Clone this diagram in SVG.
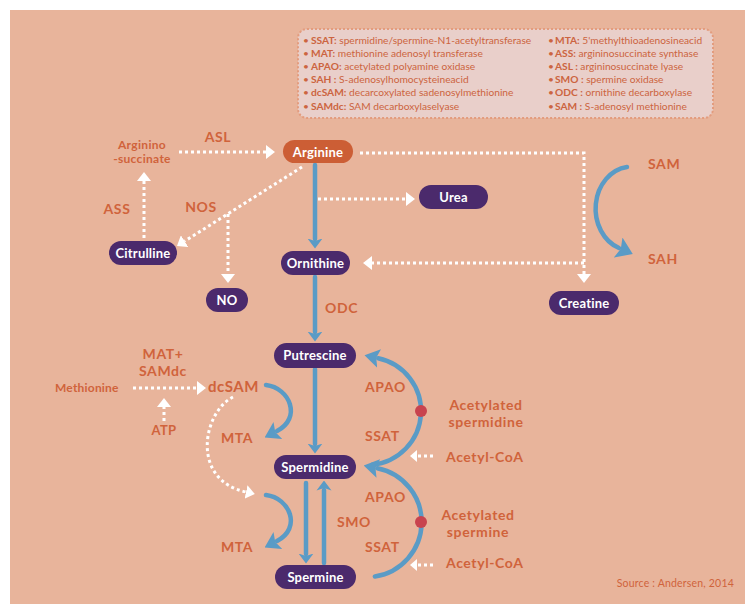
<svg xmlns="http://www.w3.org/2000/svg" width="745" height="604" viewBox="0 0 745 604">
<style>
.lbl{font-family:Lato,"Liberation Sans",sans-serif;font-weight:700;fill:#D0633B;}
.big{font-size:14px;letter-spacing:0.6px;}
.nt{font-family:Lato,"Liberation Sans",sans-serif;font-weight:700;fill:#FFFFFF;font-size:13px;text-anchor:middle;letter-spacing:0.2px;}
.node{fill:#4B2A6C;}
.leg{font-family:Lato,"Liberation Sans",sans-serif;font-size:10.2px;fill:#CC6440;}
.leg .b{font-weight:700;}
.blue{fill:none;stroke:#5A9BC6;stroke-width:4.5;stroke-linecap:round;}
.dot{fill:none;stroke:#FFFFFF;stroke-width:3;stroke-dasharray:3 3;}
</style>
<defs>
<marker id="ab" markerUnits="userSpaceOnUse" markerWidth="10" markerHeight="16" viewBox="0 0 10 16" refX="0.5" refY="8" orient="auto"><path d="M0,0.5 L10,8 L0,15.5 L2.5,8 z" fill="#5A9BC6"/></marker>
<marker id="abL" markerUnits="userSpaceOnUse" markerWidth="15" markerHeight="19" viewBox="0 0 15 19" refX="1" refY="9.5" orient="auto"><path d="M0,0 L15,9.5 L0,19 L3,9.5 z" fill="#5A9BC6"/></marker>
<marker id="abXL" markerUnits="userSpaceOnUse" markerWidth="16" markerHeight="22" viewBox="0 0 16 22" refX="1" refY="11" orient="auto"><path d="M0,0 L16,11 L0,22 L3,11 z" fill="#5A9BC6"/></marker>
<marker id="aw" markerUnits="userSpaceOnUse" markerWidth="9" markerHeight="14" viewBox="0 0 9 14" refX="0" refY="7" orient="auto"><path d="M0,0 L9,7 L0,14 z" fill="#FFFFFF"/></marker>
<marker id="aws" markerUnits="userSpaceOnUse" markerWidth="7" markerHeight="12" viewBox="0 0 7 12" refX="0" refY="6" orient="auto"><path d="M0,0 L7,6 L0,12 z" fill="#FFFFFF"/></marker>
</defs>
<rect x="10" y="10" width="735" height="594" fill="#E8B49B"/>

<g id="legend">
<rect x="298" y="29" width="415" height="89" rx="9" fill="#E9CFCA" stroke="#E39C7E" stroke-width="2" stroke-dasharray="2 2"/>
<text class="leg" x="303" y="43.5">•<tspan x="311" class="b">SSAT:</tspan> spermidine/spermine-N1-acetyltransferase</text>
<text class="leg" x="303" y="56.7">•<tspan x="311" class="b">MAT:</tspan> methionine adenosyl transferase</text>
<text class="leg" x="303" y="69.9">•<tspan x="311" class="b">APAO:</tspan> acetylated polyamine oxidase</text>
<text class="leg" x="303" y="83.1">•<tspan x="311" class="b">SAH :</tspan> S-adenosylhomocysteineacid</text>
<text class="leg" x="303" y="96.3">•<tspan x="311" class="b">dcSAM:</tspan> decarcoxylated sadenosylmethionine</text>
<text class="leg" x="303" y="109.5">•<tspan x="311" class="b">SAMdc:</tspan> SAM decarboxylaselyase</text>
<text class="leg" x="548" y="43.5">•<tspan x="555" class="b">MTA:</tspan> 5'methylthioadenosineacid</text>
<text class="leg" x="548" y="56.7">•<tspan x="555" class="b">ASS:</tspan> argininosuccinate synthase</text>
<text class="leg" x="548" y="69.9">•<tspan x="555" class="b">ASL :</tspan> argininosuccinate lyase</text>
<text class="leg" x="548" y="83.1">•<tspan x="555" class="b">SMO :</tspan> spermine oxidase</text>
<text class="leg" x="548" y="96.3">•<tspan x="555" class="b">ODC :</tspan> ornithine decarboxylase</text>
<text class="leg" x="548" y="109.5">•<tspan x="555" class="b">SAM :</tspan> S-adenosyl methionine</text>
</g>

<g id="connectors">
<path class="blue" d="M315,165 V239" marker-end="url(#ab)"/>
<path class="blue" d="M315,277 V332" marker-end="url(#ab)"/>
<path class="blue" d="M315,369 V444" marker-end="url(#ab)"/>
<path class="blue" d="M306,483 V554" marker-end="url(#ab)"/>
<path class="blue" d="M324,563 V490" marker-end="url(#ab)"/>
<path class="blue" d="M266,385 C290,388 302,418 277,431" marker-end="url(#abL)"/>
<path class="blue" d="M266,495 C290,498 302,528 277,541" marker-end="url(#abL)"/>
<path class="blue" d="M627,167 A36,42 0 0,0 619,248" marker-end="url(#abXL)"/>
<path class="blue" d="M372,464.8 A54,54 0 0,0 378.2,358.2" marker-end="url(#abL)"/>
<path class="blue" d="M374.9,576.5 A55,55 0 0,0 377.4,468.2" marker-end="url(#abL)"/>
<path class="dot" d="M179,152 H266" marker-end="url(#aw)"/>
<path class="dot" d="M144,238 V181" marker-end="url(#aw)"/>
<path class="dot" d="M302,167 L184.6,241.2" marker-end="url(#aw)"/>
<path class="dot" d="M228,214 V274" marker-end="url(#aw)"/>
<path class="dot" d="M318,199 H406" marker-end="url(#aw)"/>
<path class="dot" d="M360,153 H584 V274" marker-end="url(#aw)"/>
<path class="dot" d="M584,263 H372" marker-end="url(#aw)"/>
<path class="dot" d="M133,388 H197" marker-end="url(#aw)"/>
<path class="dot" d="M164,421 V407" marker-end="url(#aw)"/>
<path class="dot" d="M233,397 C203,412 190,480 246,492" marker-end="url(#aw)"/>
<path class="dot" d="M433,456 H417" marker-end="url(#aws)"/>
<path class="dot" d="M433,565 H417" marker-end="url(#aws)"/>
</g>

<g id="dots">
<circle cx="421" cy="411" r="6" fill="#C8434E"/>
<circle cx="421" cy="522" r="6" fill="#C8434E"/>
</g>

<g id="arginine"><rect x="283" y="140" width="70" height="23" rx="11.5" fill="#CC5E35"/><text class="nt" x="318" y="156.5">Arginine</text></g>
<g id="urea"><rect x="419" y="185" width="69" height="24" rx="12" class="node"/><text class="nt" x="453.5" y="201.5">Urea</text></g>
<g id="ornithine"><rect x="281" y="251" width="69" height="24" rx="12" class="node"/><text class="nt" x="315.5" y="267.5">Ornithine</text></g>
<g id="creatine"><rect x="549" y="291" width="70" height="24" rx="12" class="node"/><text class="nt" x="584" y="307.5">Creatine</text></g>
<g id="citrulline"><rect x="109" y="241" width="68" height="24" rx="12" class="node"/><text class="nt" x="143" y="257.5">Citrulline</text></g>
<g id="no"><rect x="206" y="288" width="42" height="24" rx="12" class="node"/><text class="nt" x="227" y="304.5">NO</text></g>
<g id="putrescine"><rect x="274" y="343" width="82" height="25" rx="12.5" class="node"/><text class="nt" x="315" y="360">Putrescine</text></g>
<g id="spermidine"><rect x="274" y="455" width="82" height="24" rx="12" class="node"/><text class="nt" x="315" y="471.5">Spermidine</text></g>
<g id="spermine"><rect x="275" y="565" width="81" height="24" rx="12" class="node"/><text class="nt" x="315.5" y="581.5">Spermine</text></g>

<g id="labels">
<text class="lbl" x="142" y="149" font-size="12" text-anchor="middle" letter-spacing="0.3">Arginino</text>
<text class="lbl" x="142" y="163" font-size="12" text-anchor="middle" letter-spacing="0.3">-succinate</text>
<text class="lbl big" x="218" y="142" text-anchor="middle">ASL</text>
<text class="lbl big" x="117" y="214" text-anchor="middle">ASS</text>
<text class="lbl big" x="201" y="212" text-anchor="middle">NOS</text>
<text class="lbl big" x="325" y="313">ODC</text>
<text class="lbl big" x="648" y="169">SAM</text>
<text class="lbl big" x="648" y="264">SAH</text>
<text class="lbl big" x="163" y="359" text-anchor="middle">MAT+</text>
<text class="lbl big" x="163" y="376" text-anchor="middle">SAMdc</text>
<text class="lbl" x="55" y="392" font-size="12" letter-spacing="0.2">Methionine</text>
<text class="lbl" x="208" y="392" font-size="15" letter-spacing="0.5">dcSAM</text>
<text class="lbl" x="164" y="435" font-size="13" text-anchor="middle" letter-spacing="0.4">ATP</text>
<text class="lbl big" x="221" y="443">MTA</text>
<text class="lbl big" x="221" y="552">MTA</text>
<text class="lbl big" x="365" y="392">APAO</text>
<text class="lbl big" x="365" y="441">SSAT</text>
<text class="lbl big" x="365" y="502">APAO</text>
<text class="lbl big" x="365" y="552">SSAT</text>
<text class="lbl big" x="337" y="527">SMO</text>
<text class="lbl big" x="486" y="410" text-anchor="middle">Acetylated</text>
<text class="lbl big" x="486" y="427" text-anchor="middle">spermidine</text>
<text class="lbl big" x="446" y="462">Acetyl-CoA</text>
<text class="lbl big" x="478" y="520" text-anchor="middle">Acetylated</text>
<text class="lbl big" x="478" y="537" text-anchor="middle">spermine</text>
<text class="lbl big" x="446" y="568">Acetyl-CoA</text>
<text class="lbl" x="734" y="587" font-size="10.5" text-anchor="end" style="font-weight:400" letter-spacing="0.2">Source : Andersen, 2014</text>
</g>
</svg>
